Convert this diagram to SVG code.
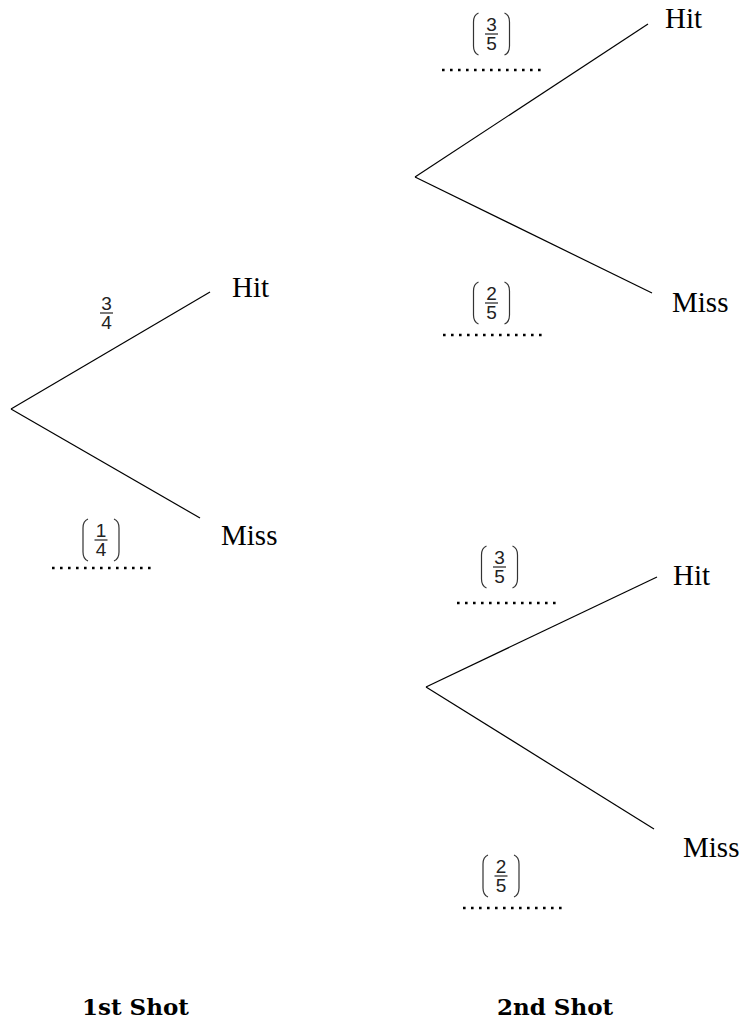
<svg xmlns="http://www.w3.org/2000/svg" width="747" height="1024" viewBox="0 0 747 1024">
<style>
.lbl{font-family:"Liberation Serif","Times New Roman",serif;font-size:29px;fill:#000}
.ttl{font-family:"DejaVu Serif","Liberation Serif",serif;font-size:23px;font-weight:bold;fill:#000}
.dig{font-family:"Liberation Sans",Arial,sans-serif;font-size:19px;fill:#222;text-anchor:middle}
.edge{stroke:#000;stroke-width:1.2;fill:none}
.par{stroke:#333;stroke-width:1.2;fill:none}
.bar{stroke:#222;stroke-width:1.2}
.dots{stroke:#000;stroke-width:2.6;stroke-dasharray:2.6 5.4;fill:none}
</style>
<defs>
<g id="parens">
<path class="par" d="M-13,-21 Q-18,-19 -18,-12 L-18,12 Q-18,19 -13,21"/>
<path class="par" d="M13,-21 Q18,-19 18,-12 L18,12 Q18,19 13,21"/>
</g>
</defs>
<rect width="747" height="1024" fill="#fff"/>
<g id="connectors">
<line class="edge" x1="11" y1="409" x2="210" y2="292"/>
<line class="edge" x1="11" y1="409" x2="200" y2="518"/>
<line class="edge" x1="415" y1="177" x2="648" y2="24"/>
<line class="edge" x1="415" y1="177" x2="652" y2="293"/>
<line class="edge" x1="426" y1="687" x2="657" y2="577"/>
<line class="edge" x1="426" y1="687" x2="654" y2="829"/>
</g>
<g id="shot1-hit"><text class="lbl" x="232" y="297">Hit</text></g>
<g id="shot1-miss"><text class="lbl" x="221" y="545">Miss</text></g>
<g id="prob-hit1" transform="translate(106.5,313)">
<text class="dig"><tspan x="0" y="-3">3</tspan><tspan x="0" y="16">4</tspan></text>
<line class="bar" x1="-6.5" y1="0" x2="6.5" y2="0"/>
</g>
<g id="prob-miss1" transform="translate(101,540)">
<use href="#parens"/>
<text class="dig"><tspan x="0" y="-3">1</tspan><tspan x="0" y="16">4</tspan></text>
<line class="bar" x1="-6.5" y1="0" x2="6.5" y2="0"/>
</g>
<path class="dots" d="M52,568 H156"/>
<g id="hit-hit"><text class="lbl" x="665" y="28">Hit</text></g>
<g id="hit-miss"><text class="lbl" x="672" y="312">Miss</text></g>
<g id="prob-hh" transform="translate(491.5,34)">
<use href="#parens"/>
<text class="dig"><tspan x="0" y="-3">3</tspan><tspan x="0" y="16">5</tspan></text>
<line class="bar" x1="-6.5" y1="0" x2="6.5" y2="0"/>
</g>
<path class="dots" d="M442,70 H545"/>
<g id="prob-hm" transform="translate(491.5,303)">
<use href="#parens"/>
<text class="dig"><tspan x="0" y="-3">2</tspan><tspan x="0" y="16">5</tspan></text>
<line class="bar" x1="-6.5" y1="0" x2="6.5" y2="0"/>
</g>
<path class="dots" d="M443,335 H547"/>
<g id="miss-hit"><text class="lbl" x="673" y="585">Hit</text></g>
<g id="miss-miss"><text class="lbl" x="683" y="857">Miss</text></g>
<g id="prob-mh" transform="translate(499.5,567)">
<use href="#parens"/>
<text class="dig"><tspan x="0" y="-3">3</tspan><tspan x="0" y="16">5</tspan></text>
<line class="bar" x1="-6.5" y1="0" x2="6.5" y2="0"/>
</g>
<path class="dots" d="M457,603 H560"/>
<g id="prob-mm" transform="translate(501,876)">
<use href="#parens"/>
<text class="dig"><tspan x="0" y="-3">2</tspan><tspan x="0" y="16">5</tspan></text>
<line class="bar" x1="-6.5" y1="0" x2="6.5" y2="0"/>
</g>
<path class="dots" d="M463,908 H567"/>
<g id="title1"><text class="ttl" x="82" y="1015">1st Shot</text></g>
<g id="title2"><text class="ttl" x="497" y="1015">2nd Shot</text></g>
</svg>
